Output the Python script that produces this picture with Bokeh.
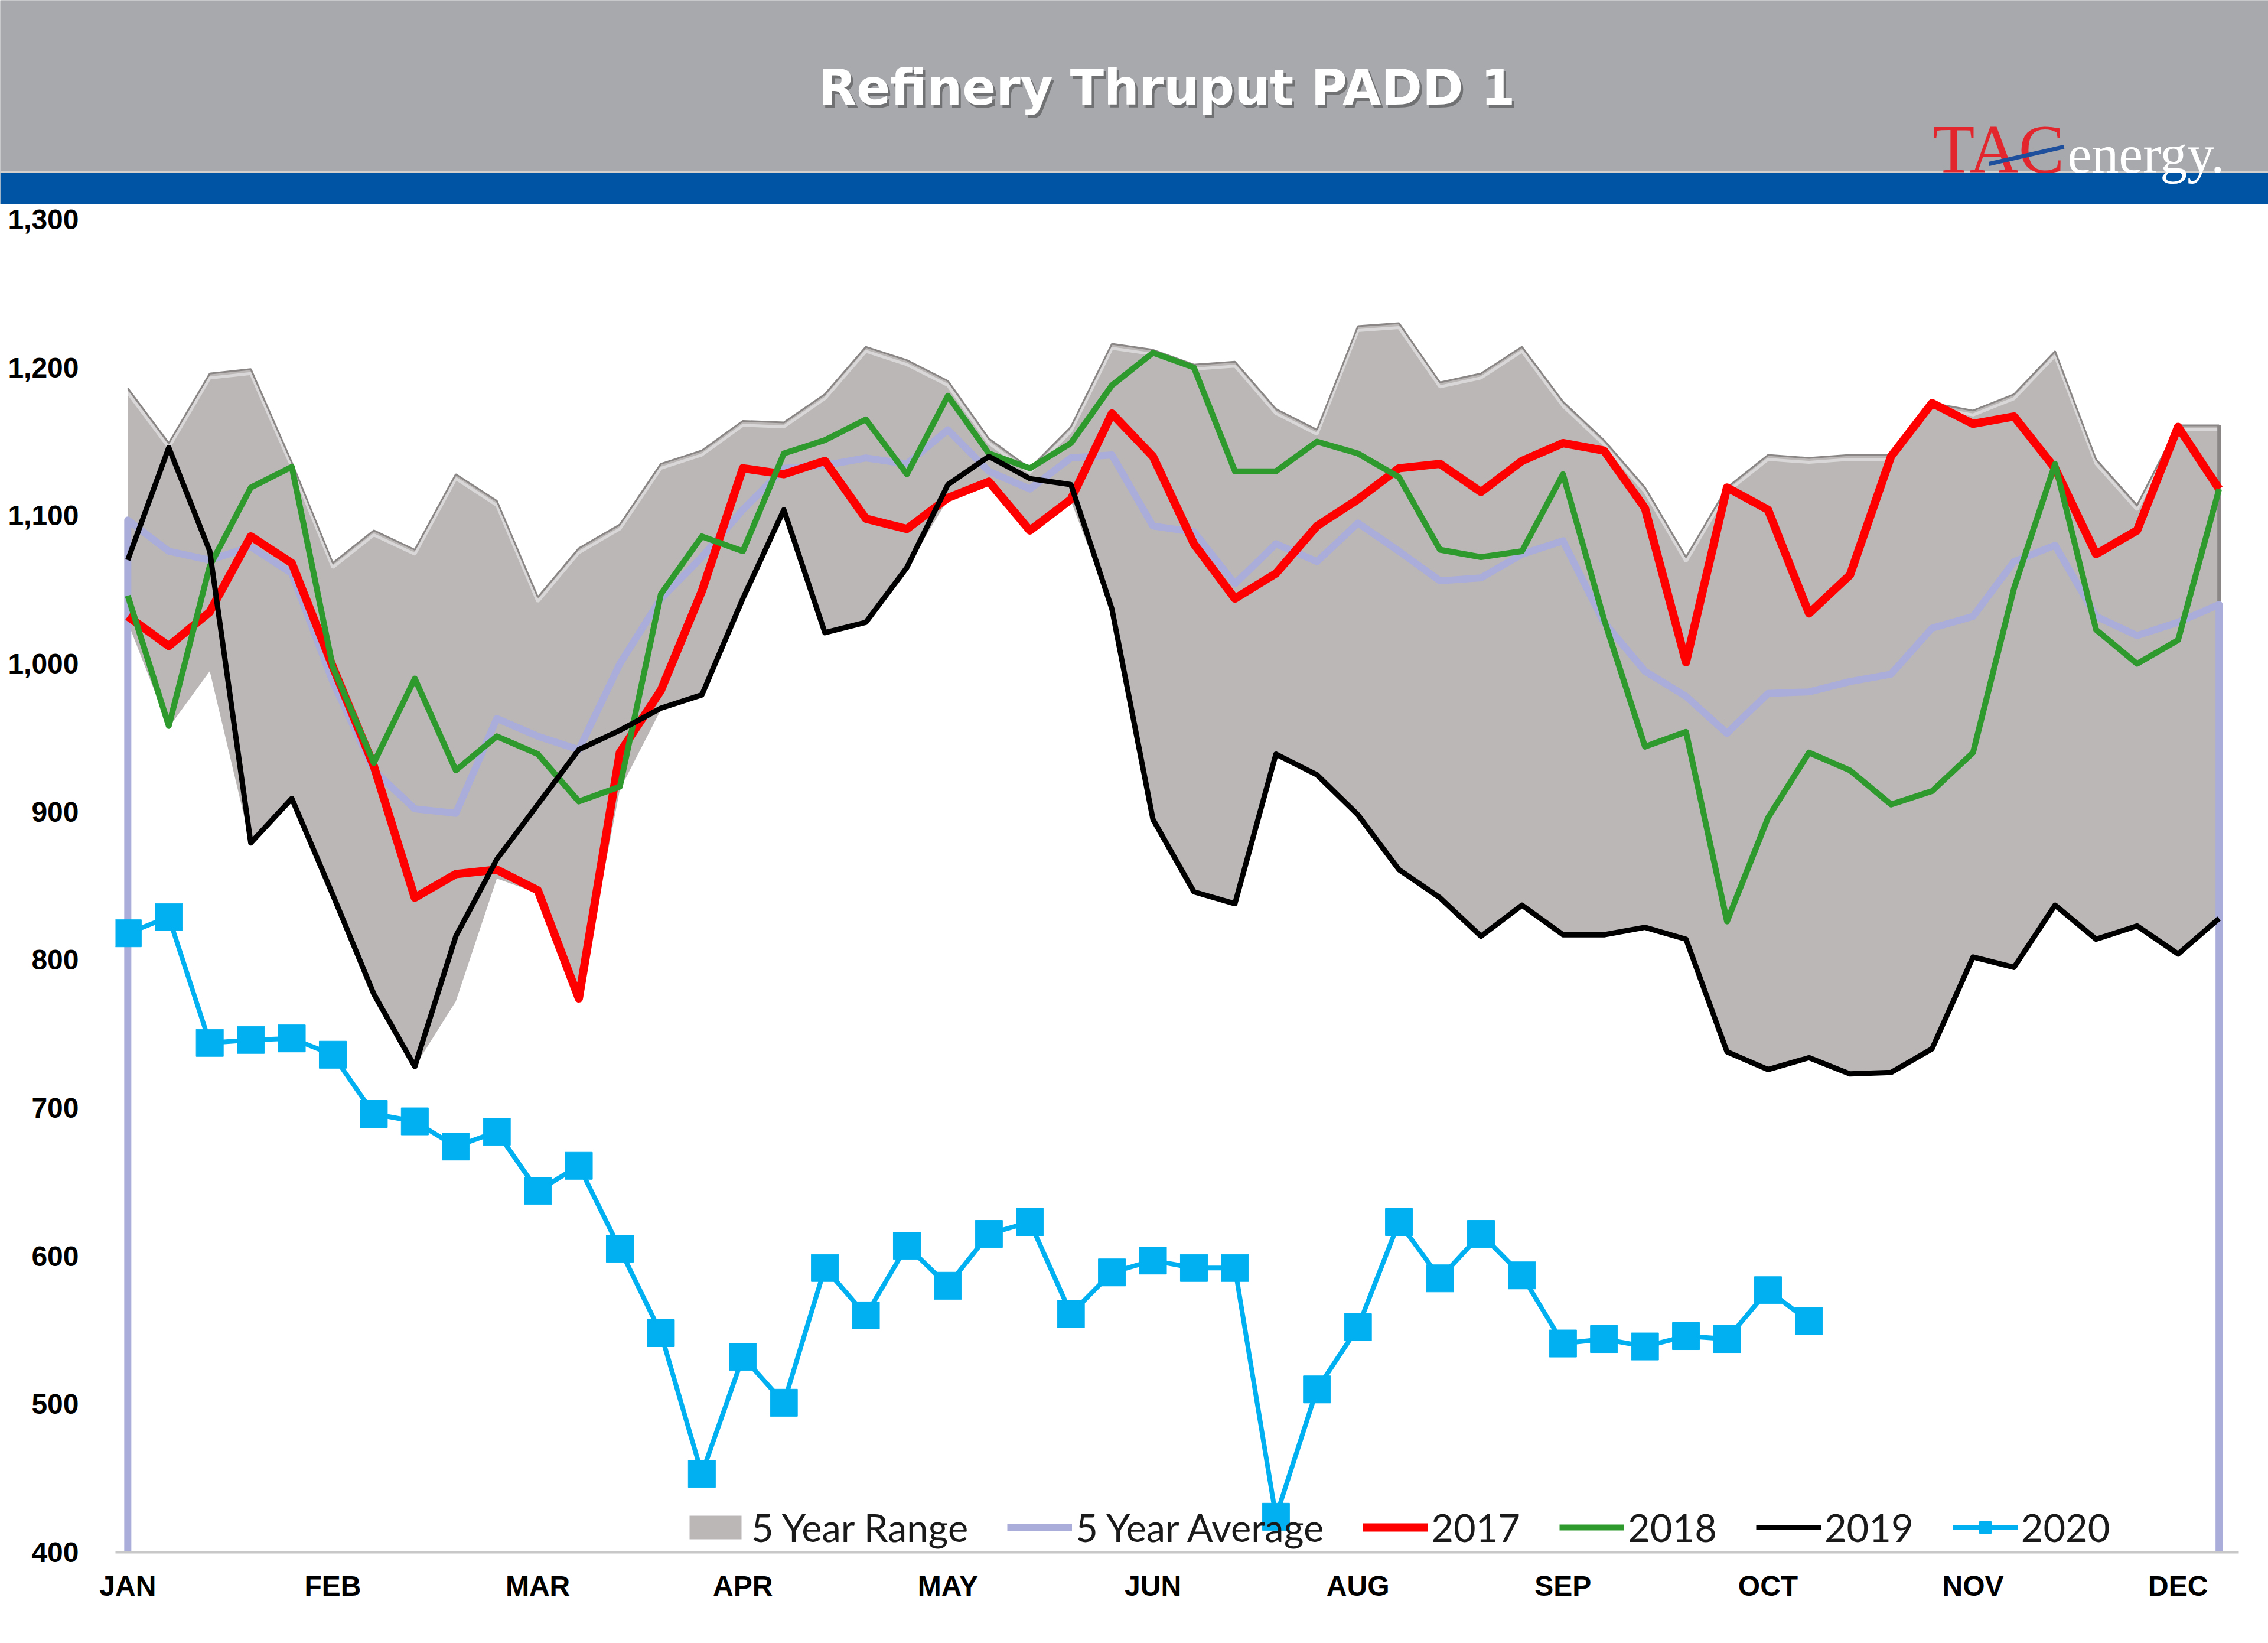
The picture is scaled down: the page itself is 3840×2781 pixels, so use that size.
from bokeh.plotting import figure
from bokeh.models import Range1d, FixedTicker, NumeralTickFormatter
from bokeh.layouts import column
from bokeh.embed import file_html
from bokeh.resources import INLINE
from bokeh.core.properties import value

# ---------------- data ----------------
weeks = list(range(52))
month_ticks = [0, 5, 10, 15, 20, 25, 30, 35, 40, 45, 50]
month_labels = ["JAN", "FEB", "MAR", "APR", "MAY", "JUN", "AUG", "SEP", "OCT", "NOV", "DEC"]
y_ticks = [400, 500, 600, 700, 800, 900, 1000, 1100, 1200, 1300]

range_high = [1186, 1149, 1196, 1199, 1136, 1068, 1090, 1077, 1128, 1110,
              1045, 1078, 1094, 1135, 1144, 1164, 1163, 1182, 1214, 1205,
              1191, 1152, 1132, 1160, 1216, 1212, 1202, 1204, 1172, 1158,
              1228, 1230, 1190, 1196, 1214, 1177, 1151, 1119, 1072, 1119,
              1141, 1139, 1141, 1141, 1176, 1171, 1182, 1211, 1138, 1107,
              1161, 1161]
range_low = [1028, 957, 995, 878, 909, 844, 777, 728, 772, 855,
             845, 772, 915, 969, 978, 1044, 1104, 1021, 1028, 1065,
             1111, 1122, 1089, 1110, 1037, 895, 846, 838, 939, 925,
             898, 861, 842, 816, 837, 817, 817, 822, 814, 738,
             726, 734, 723, 724, 740, 802, 795, 837, 814, 823,
             804, 828]
avg5 = [1097, 1076, 1070, 1079, 1061, 988, 928, 902, 899, 963,
        951, 942, 1000, 1044, 1072, 1104, 1132, 1134, 1139, 1135,
        1158, 1130, 1118, 1139, 1141, 1093, 1089, 1054, 1081, 1069,
        1095, 1076, 1056, 1058, 1074, 1083, 1028, 995, 978, 953,
        980, 981, 988, 993, 1024, 1032, 1069, 1080, 1032, 1019,
        1028, 1040]
y2017 = [1032, 1012, 1035, 1086, 1068, 998, 931, 842, 858, 861,
         847, 774, 940, 982, 1049, 1132, 1128, 1137, 1098, 1091,
         1112, 1123, 1090, 1111, 1169, 1140, 1081, 1044, 1061, 1093,
         1111, 1132, 1135, 1116, 1137, 1149, 1144, 1105, 1001, 1119,
         1104, 1034, 1060, 1140, 1176, 1162, 1167, 1132, 1074, 1090,
         1160, 1118]
y2018 = [1046, 958, 1066, 1119, 1133, 998, 933, 990, 928, 951,
         939, 907, 917, 1047, 1086, 1076, 1142, 1151, 1165, 1128,
         1181, 1142, 1132, 1149, 1188, 1210, 1200, 1130, 1130, 1150,
         1142, 1126, 1077, 1072, 1076, 1128, 1030, 944, 954, 826,
         896, 940, 928, 905, 914, 940, 1051, 1135, 1023, 1000,
         1016, 1118]
y2019 = [1070, 1146, 1076, 879, 909, 844, 777, 728, 816, 868,
         905, 942, 955, 970, 979, 1044, 1104, 1021, 1028, 1065,
         1121, 1140, 1125, 1121, 1037, 895, 846, 838, 939, 925,
         898, 861, 842, 816, 837, 817, 817, 822, 814, 738,
         726, 734, 723, 724, 740, 802, 795, 837, 814, 823,
         804, 828]
y2020 = [818, 829, 744, 746, 747, 736, 696, 691, 674, 684,
         644, 661, 605, 548, 453, 532, 501, 592, 560, 607,
         580, 615, 623, 561, 589, 597, 592, 592, 424, 510,
         552, 623, 585, 615, 587, 541, 544, 539, 546, 544,
         577, 556]

title_text = "Refinery Thruput PADD 1"

GRAY = "#A7A9AC"
BLUE = "#0054A4"

# ---------------- header ----------------
W = 3840
HH = 345
hdr = figure(width=W, height=HH, x_range=Range1d(0, W), y_range=Range1d(HH, 0),
             toolbar_location=None, output_backend="svg", min_border=0,
             x_axis_location=None, y_axis_location=None)
hdr.grid.visible = False
hdr.outline_line_color = None
hdr.background_fill_color = GRAY
hdr.border_fill_color = GRAY
hdr.quad(left=0, right=W, top=0, bottom=292, fill_color=GRAY, line_color=None)
hdr.quad(left=0, right=W, top=292, bottom=HH, fill_color=BLUE, line_color=None)
hdr.segment(x0=0, y0=291, x1=W, y1=291, line_color="#D4D0CE", line_width=3)
# title with shadow
hdr.text(x=[1979], y=[152], text=[title_text], text_font=value("DejaVu Sans"),
         text_font_style="bold", text_font_size="84px", text_color="#3A3A3A",
         text_alpha=0.5, text_align="center", text_baseline="middle")
hdr.text(x=[1975], y=[147], text=[title_text], text_font=value("DejaVu Sans"),
         text_font_style="bold", text_font_size="84px", text_color="white",
         text_align="center", text_baseline="middle")
# logo
hdr.text(x=[3272], y=[252], text=["TAC"], text_font=value("Liberation Serif"),
         text_font_size="116px", text_color="#E3262D", text_align="left",
         text_baseline="middle")
hdr.text(x=[3500], y=[260], text=["energy."], text_font=value("Liberation Serif"),
         text_font_size="92px", text_color="white", text_align="left",
         text_baseline="middle")
hdr.segment(x0=3367, y0=277, x1=3494, y1=248, line_color="#1D4F9C", line_width=7)

# ---------------- chart ----------------
HC = 2781 - HH
FL, FR = 195, 50
FT = 371 - HH
FH = 2256
p = figure(width=W, height=HC, x_range=Range1d(-0.3, 51.48), y_range=Range1d(400, 1300),
           toolbar_location=None, output_backend="svg",
           min_border_left=FL, min_border_right=FR, min_border_top=FT,
           min_border_bottom=HC - FT - FH)
p.grid.visible = False
p.outline_line_color = None
p.background_fill_color = "white"
p.border_fill_color = "white"

for fig in (hdr, p):
    try:
        fig.frame_align = False
    except Exception:
        pass

p.yaxis.ticker = FixedTicker(ticks=y_ticks)
p.yaxis.formatter = NumeralTickFormatter(format="0,0")
p.yaxis.axis_line_color = None
p.yaxis.major_tick_line_color = None
p.yaxis.minor_tick_line_color = None
p.yaxis.major_tick_out = 0
p.yaxis.major_label_standoff = 62
p.yaxis.major_label_text_font = "Liberation Sans"
p.yaxis.major_label_text_font_style = "bold"
p.yaxis.major_label_text_font_size = "48px"
p.yaxis.major_label_text_color = "black"

p.xaxis.ticker = FixedTicker(ticks=month_ticks)
p.xaxis.major_label_overrides = {t: l for t, l in zip(month_ticks, month_labels)}
p.xaxis.axis_line_color = "#C8C8C8"
p.xaxis.axis_line_width = 4
p.xaxis.major_tick_line_color = None
p.xaxis.minor_tick_line_color = None
p.xaxis.major_tick_out = 0
p.xaxis.major_label_standoff = 30
p.xaxis.major_label_text_font = "Liberation Sans"
p.xaxis.major_label_text_font_style = "bold"
p.xaxis.major_label_text_font_size = "48px"
p.xaxis.major_label_text_color = "black"

# 5 year range
p.varea(x=weeks, y1=range_low, y2=range_high, fill_color="#BBB7B7", legend_label="5 Year Range")
p.line(weeks, [v - 3 for v in range_high], line_color="white", line_alpha=0.45, line_width=5)
p.line(weeks, range_high, line_color="#8A8686", line_width=3)
p.segment(x0=weeks[-1], y0=range_low[-1], x1=weeks[-1], y1=range_high[-1],
          line_color="#8A8686", line_width=6)

# 5 year average (area outline down to the axis)
ax = [weeks[0]] + weeks + [weeks[-1]]
ay = [y_ticks[0]] + avg5 + [y_ticks[0]]
p.line(ax, ay, line_color="#AAACD9", line_width=12, line_join="round",
       legend_label="5 Year Average")

p.line(weeks, y2017, line_color="#FF0000", line_width=14, line_join="round", legend_label="2017")
p.line(weeks, y2018, line_color="#2E9A2E", line_width=10, line_join="round", legend_label="2018")
p.line(weeks, y2019, line_color="#000000", line_width=9, line_join="round", legend_label="2019")
w20 = weeks[:len(y2020)]
p.line(w20, y2020, line_color="#00B0F0", line_width=8, legend_label="2020")
p.scatter(w20, y2020, marker="square", size=46, fill_color="#00B0F0", line_color="#00B0F0",
          legend_label="2020")

lg = p.legend[0]
lg.location = (961, 3)
lg.orientation = "horizontal"
lg.glyph_width = 110
lg.glyph_height = 50
lg.label_standoff = 6
lg.spacing = 66
lg.padding = 0
lg.margin = 0
lg.background_fill_alpha = 0
lg.border_line_color = None
lg.label_text_font = "Lato"
lg.label_text_font_size = "65px"
lg.label_text_color = "#1A1A1A"

layout = column(hdr, column(p), spacing=0)
open("out.html", "w").write(file_html(layout, INLINE))
